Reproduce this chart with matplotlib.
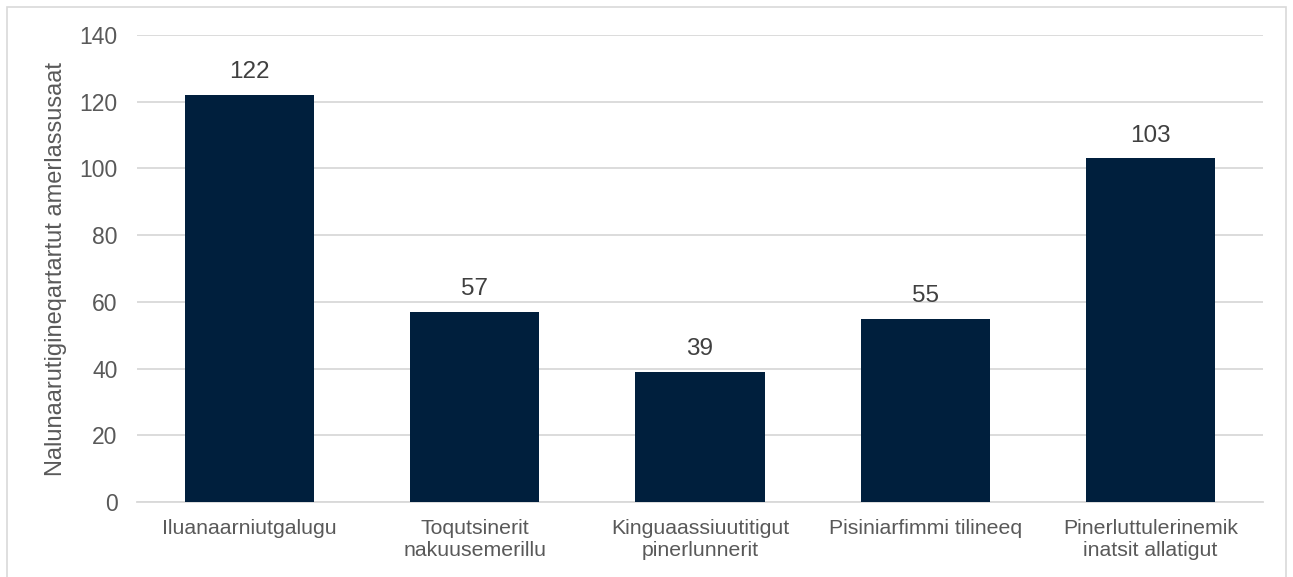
import matplotlib
matplotlib.use("Agg")
import matplotlib.pyplot as plt
from matplotlib.patches import Rectangle

categories = ["Iluanaarniutgalugu", "Toqutsinerit\nnakuusemerillu", "Kinguaassiuutitigut\npinerlunnerit",
              "Pisiniarfimmi tilineeq", "Pinerluttulerinemik\ninatsit allatigut"]
values = [122, 57, 39, 55, 103]
yticks = [0, 20, 40, 60, 80, 100, 120, 140]
ylabel = "Nalunaarutigineqartartut amerlassusaat"

plt.rcParams['font.family'] = ['Liberation Sans', 'DejaVu Sans']

fig = plt.figure(figsize=(12.93, 5.77), dpi=100)
fig.patches.append(Rectangle((7/1293, -0.1), (1286-7)/1293, 1 - 7/577 + 0.1, transform=fig.transFigure,
                             fill=False, edgecolor='#d9d9d9', linewidth=1.2))
ax = fig.add_axes([137/1293, 1 - 502/577, (1263-137)/1293, (502-35)/577])

x = range(len(categories))
ax.bar(x, values, width=0.573, color='#001f3d', zorder=3)
for xi, v in zip(x, values):
    ax.text(xi, v + 3.5, str(v), ha='center', va='bottom', fontsize=17.5, color='#404040')

ax.set_xlim(-0.5, len(categories) - 0.5)
ax.set_ylim(0, 140)
ax.set_yticks(yticks)
ax.set_xticks(list(x))
ax.set_xticklabels(categories, fontsize=15.3, color='#595959', linespacing=1.2)
ax.tick_params(axis='y', labelsize=16.5, labelcolor='#595959', length=0, pad=14)
ax.tick_params(axis='x', length=0, pad=12)
ax.grid(axis='y', color='#d9d9d9', linewidth=1.3, zorder=0)
for s in ['top', 'right', 'left']:
    ax.spines[s].set_visible(False)
ax.spines['bottom'].set_color('#d9d9d9')
ax.spines['bottom'].set_linewidth(1.3)
ax.set_ylabel(ylabel, fontsize=17, color='#595959', labelpad=9)

fig.savefig("out.png", dpi=100)
